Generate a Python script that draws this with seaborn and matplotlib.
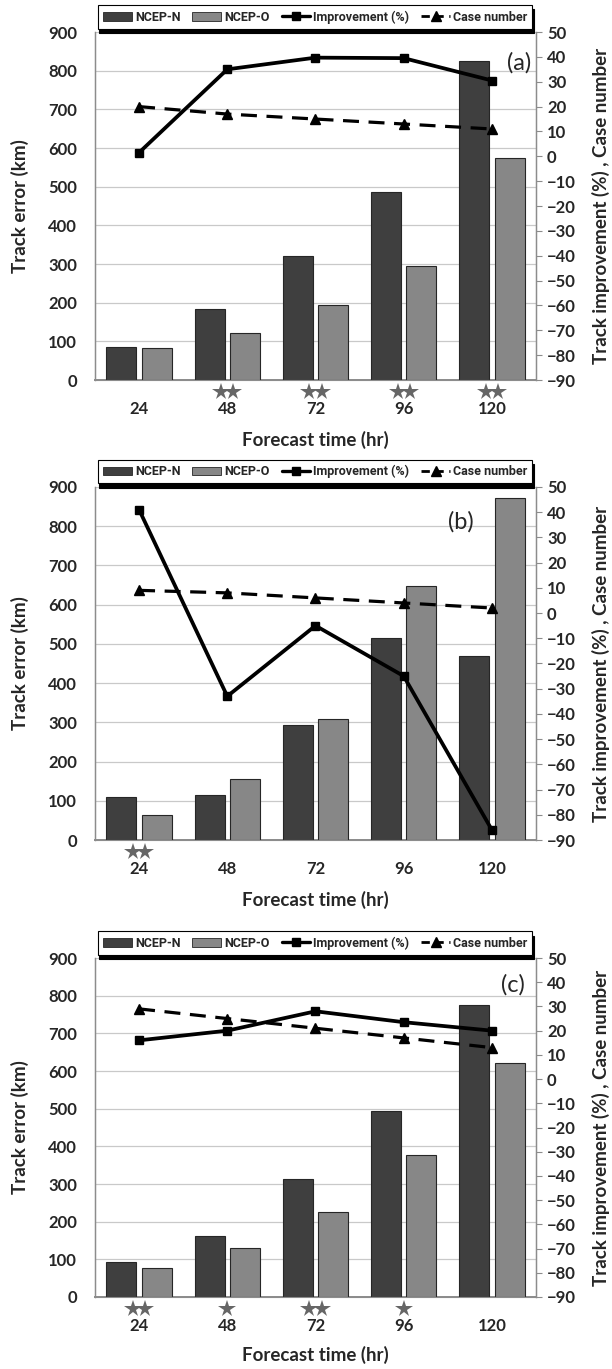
import numpy as np
import pandas as pd
import seaborn as sns
import matplotlib.pyplot as plt
from matplotlib.patches import Patch
from matplotlib.lines import Line2D
import matplotlib.transforms as mtransforms

hours = ["24", "48", "72", "96", "120"]

ncep_n_a = [85, 185, 320, 487, 824]
ncep_o_a = [84, 121, 194, 295, 573]
improve_a = [1.5, 35, 39.7, 39.5, 30.5]
cases_a = [20, 17, 15, 13, 11]
stars_a = [0, 2, 2, 2, 2]

ncep_n_b = [110, 116, 292, 516, 469]
ncep_o_b = [65, 156, 308, 648, 871]
improve_b = [41, -33, -5, -25, -86]
cases_b = [9, 8, 6, 4, 2]
stars_b = [2, 0, 0, 0, 0]

ncep_n_c = [92, 162, 312, 493, 775]
ncep_o_c = [78, 131, 226, 378, 620]
improve_c = [16, 20, 28, 23.5, 20]
cases_c = [29, 25, 21, 17, 13]
stars_c = [2, 1, 2, 1, 0]

panels = [
    ("(a)", ncep_n_a, ncep_o_a, improve_a, cases_a, stars_a),
    ("(b)", ncep_n_b, ncep_o_b, improve_b, cases_b, stars_b),
    ("(c)", ncep_n_c, ncep_o_c, improve_c, cases_c, stars_c),
]

# axes boxes in figure fractions: left, bottom, width, height
boxes = [
    [0.1552, 0.7224, 0.7206, 0.2542],
    [0.1552, 0.3864, 0.7206, 0.2579],
    [0.1552, 0.0526, 0.7206, 0.2476],
]
tag_pos = [(0.99, 0.912), (0.86, 0.902), (0.975, 0.92)]

dark = "#3f3f3f"
light = "#878787"
edge = "#262626"
spine_c = "#8c8c8c"

sns.set_style("white")
plt.rcParams["font.family"] = ["Lato", "DejaVu Sans"]

fig = plt.figure(figsize=(6.12, 13.69), dpi=100)

for (tag, n_vals, o_vals, imp, cas, stars), box, tp in zip(panels, boxes, tag_pos):
    ax = fig.add_axes(box)
    df = pd.DataFrame({
        "hour": hours * 2,
        "error": n_vals + o_vals,
        "model": ["NCEP-N"] * 5 + ["NCEP-O"] * 5,
    })
    sns.barplot(data=df, x="hour", y="error", hue="model", order=hours,
                palette=[dark, light], width=0.8, gap=0.15,
                edgecolor=edge, linewidth=0.8, ax=ax, legend=False, zorder=3)
    ax.set_xlim(-0.5, 4.5)
    ax.set_ylim(0, 900)
    ax.set_yticks(range(0, 901, 100))
    ax.yaxis.grid(True, color="#c9c9c9", linewidth=0.9, zorder=0)
    ax.set_axisbelow(True)
    ax.tick_params(axis="y", length=0, pad=13, labelsize=12)
    ax.tick_params(axis="x", length=0, pad=15, labelsize=12)
    for lab in ax.get_xticklabels() + ax.get_yticklabels():
        lab.set_fontweight("bold")
    ax.set_xlabel("Forecast time (hr)", fontsize=13.5, fontweight="bold")
    ax.xaxis.set_label_coords(0.5, -0.145)
    ax.set_ylabel("Track error (km)", fontsize=13.5, fontweight="bold")
    ax.yaxis.set_label_coords(-0.15, 0.5)
    for side in ["left", "bottom", "right"]:
        ax.spines[side].set_color(spine_c)
        ax.spines[side].set_linewidth(1.0)
    ax.spines["bottom"].set_linewidth(1.4)
    ax.spines["top"].set_visible(False)

    # significance stars under the bars, as star markers set close together
    trans = mtransforms.blended_transform_factory(ax.transData, ax.transAxes)
    sx = []
    for i, n in enumerate(stars):
        if n == 1:
            sx += [i]
        elif n == 2:
            sx += [i - 0.07, i + 0.07]
    ax.plot(sx, [-0.034] * len(sx), linestyle="none", marker="*",
            markersize=13, color="#666666", markeredgewidth=0,
            transform=trans, clip_on=False)

    ax2 = ax.twinx()
    ax2.set_ylim(-90, 50)
    ax2.set_yticks(range(-90, 51, 10))
    x = np.arange(len(hours))
    ax2.plot(x, imp, color="black", linewidth=2.7, marker="s", markersize=6,
             zorder=5)
    ax2.plot(x, cas, color="black", linewidth=2.3, linestyle=(0, (5, 3)),
             marker="^", markersize=7.5, zorder=5)
    ax2.tick_params(axis="y", length=4, width=0.8, color=spine_c, pad=4,
                    labelsize=12)
    for lab in ax2.get_yticklabels():
        lab.set_fontweight("bold")
    ax2.set_ylabel("Track improvement (%) , Case number", fontsize=13.5,
                   fontweight="bold")
    ax2.yaxis.set_label_coords(1.127, 0.5)
    for side in ["left", "bottom", "right"]:
        ax2.spines[side].set_color(spine_c)
    ax2.spines["top"].set_visible(False)

    ax2.text(tp[0], tp[1], tag, transform=ax2.transAxes, ha="right",
             va="center", fontsize=17)

    handles = [
        Patch(facecolor=dark, edgecolor=edge, linewidth=0.6),
        Patch(facecolor=light, edgecolor=edge, linewidth=0.6),
        Line2D([], [], color="black", linewidth=2.4, marker="s", markersize=5.5),
        Line2D([], [], color="black", linewidth=2.0, linestyle=(0, (3, 2)),
               marker="^", markersize=6.5),
    ]
    labels = ["NCEP-N", "NCEP-O", "Improvement (%)", "Case number"]
    leg = ax2.legend(handles, labels, loc="lower left", ncol=4,
                     bbox_to_anchor=(0.007, 1.01, 0.985, 0.05), mode="expand",
                     borderaxespad=0, fancybox=False, framealpha=1,
                     edgecolor="black", handlelength=2.3, handleheight=0.7,
                     handletextpad=0.25, borderpad=0.4,
                     prop={"family": ["Liberation Sans Narrow", "Roboto", "DejaVu Sans"],
                           "weight": "bold", "size": 9},
                     shadow={"color": "black", "alpha": 1, "ox": 1, "oy": -3})
    leg.get_frame().set_linewidth(0.8)
    leg.set_zorder(10)

fig.savefig("out.png", dpi=100)
